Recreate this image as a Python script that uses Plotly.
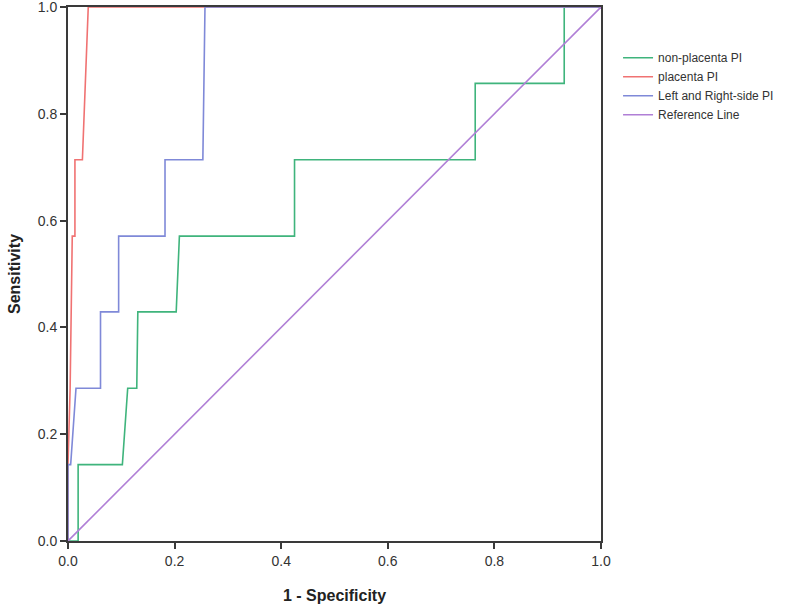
import plotly.graph_objects as go

# ROC curve data (1 - Specificity, Sensitivity)
nonplacenta_x = [0, 0.019, 0.019, 0.102, 0.112, 0.129, 0.131, 0.203, 0.209, 0.425, 0.425, 0.764, 0.764, 0.931, 0.931, 1.0]
nonplacenta_y = [0, 0, 0.143, 0.143, 0.286, 0.286, 0.429, 0.429, 0.571, 0.571, 0.714, 0.714, 0.857, 0.857, 1.0, 1.0]

placenta_x = [0, 0, 0.004, 0.006, 0.008, 0.013, 0.013, 0.027, 0.038, 1.0]
placenta_y = [0, 0.143, 0.286, 0.429, 0.571, 0.571, 0.714, 0.714, 1.0, 1.0]

lr_x = [0, 0, 0.005, 0.015, 0.061, 0.061, 0.095, 0.095, 0.182, 0.182, 0.253, 0.257, 1.0]
lr_y = [0, 0.143, 0.143, 0.286, 0.286, 0.429, 0.429, 0.571, 0.571, 0.714, 0.714, 1.0, 1.0]

ref_x = [0, 1]
ref_y = [0, 1]

series = [
    ("non-placenta PI", nonplacenta_x, nonplacenta_y, "#3fb47c"),
    ("placenta PI", placenta_x, placenta_y, "#f07272"),
    ("Left and Right-side PI", lr_x, lr_y, "#7f89d8"),
    ("Reference Line", ref_x, ref_y, "#b07fd6"),
]

fig = go.Figure()
for name, xs, ys, col in series:
    fig.add_trace(go.Scatter(x=xs, y=ys, mode="lines", name=name,
                             line=dict(color=col, width=1.6)))

axis_common = dict(
    range=[0, 1], dtick=0.2, tickformat=".1f",
    showgrid=False, zeroline=False, automargin=False,
    showline=True, linecolor="#3a3a3a", linewidth=2, mirror=True,
    ticks="outside", ticklen=6, tickwidth=2, tickcolor="#3a3a3a",
    ticklabeloverflow="allow",
    tickfont=dict(family="Liberation Sans, Arial", size=14, color="#333333"),
)

fig.update_layout(
    width=800, height=609,
    margin=dict(l=68, r=199, t=7, b=68),
    paper_bgcolor="white", plot_bgcolor="white",
    xaxis=dict(**axis_common,
               title=dict(text="<b>1 - Specificity</b>",
                          font=dict(family="Liberation Sans, Arial", size=16, color="#222222"),
                          standoff=22)),
    yaxis=dict(**axis_common,
               title=dict(text="<b>Sensitivity</b>",
                          font=dict(family="Liberation Sans, Arial", size=16, color="#222222"),
                          standoff=13)),
    legend=dict(x=1.032, y=0.932, xanchor="left", yanchor="top",
                font=dict(family="Liberation Sans, Arial", size=12, color="#333333"),
                itemwidth=30, tracegroupgap=0, bgcolor="rgba(0,0,0,0)"),
    showlegend=True,
)

fig.write_html("out.html", config={"displayModeBar": False},
               post_script="document.body.style.margin='0';")
